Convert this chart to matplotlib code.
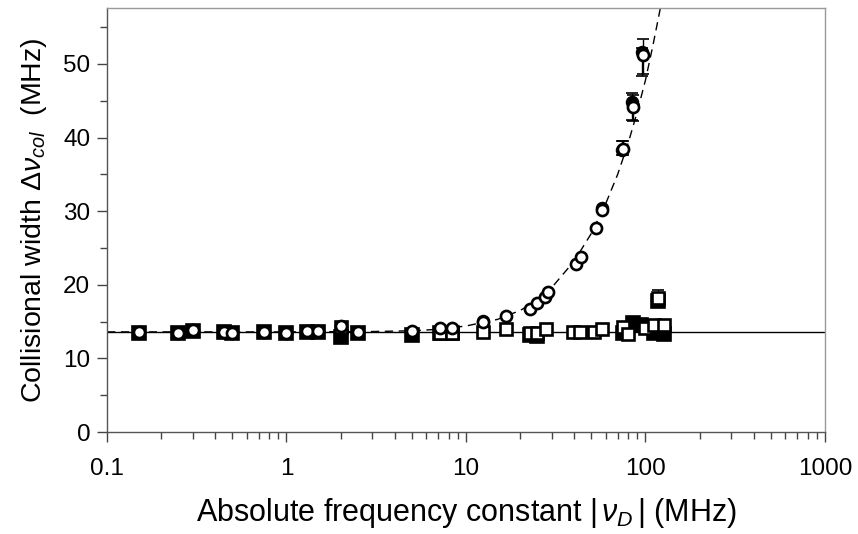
import matplotlib
matplotlib.use("Agg")
import matplotlib.pyplot as plt
from matplotlib.ticker import LogLocator, NullFormatter, MultipleLocator, FixedLocator, FixedFormatter

plt.rcParams['font.family'] = ['Liberation Sans', 'DejaVu Sans']
plt.rcParams['mathtext.fontset'] = 'custom'
plt.rcParams['mathtext.rm'] = 'Liberation Sans'
plt.rcParams['mathtext.it'] = 'Liberation Sans:italic'
plt.rcParams['mathtext.default'] = 'it'

# ---- data ----
circ_x = [0.15, 0.25, 0.3, 0.45, 0.5, 0.75, 1.0, 1.3, 1.5, 2.0, 2.5, 5.0, 7.2, 8.4,
          12.4, 16.7, 22.7, 24.9, 27.4, 28.6, 41.0, 43.7, 53.0, 57.3, 75.0, 85.0, 97.0]
circ_y = [13.6, 13.5, 13.8, 13.6, 13.5, 13.6, 13.5, 13.7, 13.7, 14.4, 13.6, 13.7, 14.1, 14.1,
          14.9, 15.8, 16.7, 17.5, 18.3, 19.0, 22.8, 23.8, 27.7, 30.2, 38.5, 44.2, 51.2]

circ_fill_x = [12.4, 57.3, 74.0, 84.0, 96.0]
circ_fill_y = [15.1, 30.4, 38.3, 44.8, 51.6]

err_circ_x = [75.0, 85.0, 97.0]
err_circ_y = [38.5, 44.2, 51.2]
err_circ_lo = [0.9, 2.0, 2.6]
err_circ_hi = [1.0, 1.6, 2.2]

err_cfill_x = [74.0, 84.0, 96.0]
err_cfill_y = [38.3, 44.8, 51.6]
err_cfill_lo = [0.7, 2.4, 3.2]
err_cfill_hi = [1.2, 1.2, 0.6]

sq_fill_x = [0.15, 0.25, 0.3, 0.45, 0.5, 0.75, 1.0, 1.3, 1.5, 2.0, 2.5, 5.0, 7.2, 8.4,
             22.7, 24.9, 75.0, 85.0, 95.0, 112.0, 117.0, 127.0]
sq_fill_y = [13.5, 13.4, 13.7, 13.6, 13.4, 13.6, 13.5, 13.6, 13.6, 12.9, 13.5, 13.2, 13.5, 13.5,
             13.2, 13.1, 13.5, 14.8, 14.5, 13.4, 17.8, 13.3]

sq_open_x = [2.0, 7.2, 8.4, 12.4, 16.7, 22.7, 24.9, 28.0, 39.4, 43.0, 51.6, 57.0,
             75.0, 80.0, 100.0, 112.0, 117.0, 127.0]
sq_open_y = [14.3, 13.5, 13.5, 13.6, 14.0, 13.4, 13.4, 14.0, 13.6, 13.6, 13.6, 14.0,
             14.2, 13.3, 14.1, 14.5, 18.2, 14.5]

err_sq_x = [85.0, 117.0]
err_sq_y = [14.8, 18.2]
err_sq_hi = [0.6, 1.1]

curve_x = [0.1, 1, 3, 5, 7, 10, 15, 20, 25, 30, 40, 50, 60, 70, 80, 90, 100, 110, 122]
curve_y = [13.6, 13.6, 13.65, 13.75, 13.95, 14.4, 15.3, 16.5, 17.9, 19.6, 23.2, 27.0,
           31.0, 35.0, 39.2, 43.5, 47.8, 52.5, 58.0]

base_level = 13.6

x_ticks = [0.1, 1, 10, 100, 1000]
x_ticklabels = ['0.1', '1', '10', '100', '1000']
y_ticks = [0, 10, 20, 30, 40, 50]

# ---- figure ----
fig = plt.figure(figsize=(8.58, 5.34), dpi=100)
ax = fig.add_axes([0.1247, 0.191, 0.8368, 0.794])

ax.set_xscale('log')
ax.set_xlim(0.1, 1000)
ax.set_ylim(0, 57.6)

ax.axhline(base_level, color='black', lw=1.0, zorder=2)
ax.plot(curve_x, curve_y, color='black', lw=1.0, ls=(0, (6, 4)), zorder=2)

ax.errorbar(err_sq_x, err_sq_y, yerr=[[0] * len(err_sq_x), err_sq_hi], fmt='none',
            ecolor='black', elinewidth=1.0, capsize=4, capthick=1.2, zorder=2.5)
ax.errorbar(err_circ_x, err_circ_y, yerr=[err_circ_lo, err_circ_hi], fmt='none',
            ecolor='black', elinewidth=1.0, capsize=4, capthick=1.2, zorder=2.5)
ax.errorbar(err_cfill_x, err_cfill_y, yerr=[err_cfill_lo, err_cfill_hi], fmt='none',
            ecolor='black', elinewidth=1.0, capsize=4, capthick=1.2, zorder=2.5)

ax.plot(sq_fill_x, sq_fill_y, ls='none', marker='s', ms=9.5, mfc='black', mec='black',
        mew=1.2, zorder=3)
ax.plot(sq_open_x, sq_open_y, ls='none', marker='s', ms=9.0, mfc='white', mec='black',
        mew=1.9, zorder=4)
ax.plot(circ_fill_x, circ_fill_y, ls='none', marker='o', ms=8.5, mfc='black', mec='black',
        mew=1.2, zorder=4.5)
ax.plot(circ_x, circ_y, ls='none', marker='o', ms=8.0, mfc='white', mec='black',
        mew=1.9, zorder=5)

# ticks
ax.xaxis.set_major_locator(FixedLocator(x_ticks))
ax.xaxis.set_major_formatter(FixedFormatter(x_ticklabels))
ax.xaxis.set_minor_locator(LogLocator(base=10, subs=range(2, 10)))
ax.xaxis.set_minor_formatter(NullFormatter())
ax.yaxis.set_major_locator(FixedLocator(y_ticks))
ax.yaxis.set_minor_locator(MultipleLocator(5))

ax.tick_params(axis='both', which='major', direction='out', length=7, width=1.0,
               colors='#444444', labelcolor='black', labelsize=17.5, pad=5)
ax.tick_params(axis='both', which='minor', direction='out', length=5, width=1.0,
               colors='#444444')
ax.tick_params(axis='x', which='major', pad=12)

for side in ['left', 'bottom']:
    ax.spines[side].set_color('#555555')
    ax.spines[side].set_linewidth(1.0)
for side in ['top', 'right']:
    ax.spines[side].set_color('#999999')
    ax.spines[side].set_linewidth(1.0)

ax.set_xlabel(r'Absolute frequency constant $|\,\nu_D\,|$ (MHz)', fontsize=22, labelpad=11)
ax.set_ylabel(r'Collisional width $\mathrm{\Delta}\nu_{col}$  (MHz)', fontsize=20.5, labelpad=10)

fig.savefig('out.png', dpi=100)
